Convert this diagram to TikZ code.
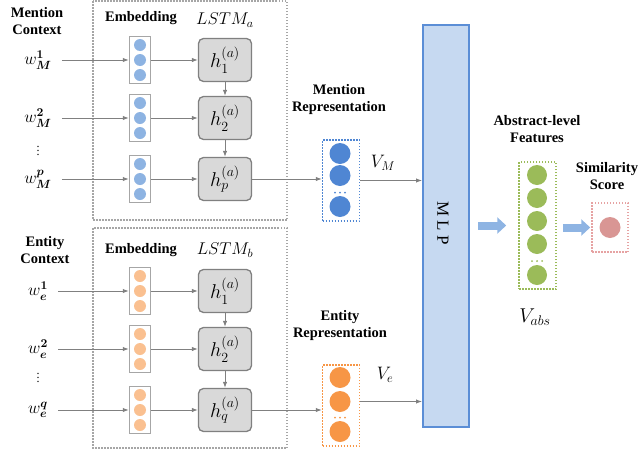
\RequirePackage{fix-cm}
\documentclass[tikz,border=0pt]{standalone}
\usepackage{amsmath}
\usepackage{bm}
\usepackage{fontspec}
\setmainfont{Liberation Serif}
\usetikzlibrary{arrows.meta, calc, positioning}

\definecolor{arrowgray}{HTML}{808080}
\definecolor{boxgray}{HTML}{A6A6A6}
\definecolor{cellgray}{HTML}{D9D9D9}
\definecolor{embblue}{HTML}{8DB3E2}
\definecolor{embor}{HTML}{FAC090}
\definecolor{repblue}{HTML}{4F86D3}
\definecolor{repor}{HTML}{F79646}
\definecolor{featgreen}{HTML}{9BBB59}
\definecolor{scorered}{HTML}{D99694}
\definecolor{scoreline}{HTML}{E6A3A3}
\definecolor{mlpfill}{HTML}{C6D9F1}
\definecolor{mlpline}{HTML}{5B8ED6}
\definecolor{fatblue}{HTML}{8EB4E3}

\tikzset{
  lbl/.style={font=\fontsize{14.5}{17}\selectfont\bfseries, align=center},
  mth/.style={font=\fontsize{17}{19}\selectfont, inner sep=0pt},
  vdot/.style={font=\fontsize{12}{13}\selectfont, inner sep=0pt},
  conn/.style={draw=arrowgray, line width=1pt, -{Latex[length=6pt,width=4.5pt]}},
  fat/.style={draw=fatblue, line width=8pt, -{Triangle[length=9pt,width=16pt]}},
  ctxbox/.style={draw=boxgray, line width=1.5pt, dash pattern=on 1.5pt off 1.5pt},
  embbox/.style={draw=boxgray, line width=1.5pt, fill=white, minimum width=21pt, minimum height=47pt, inner sep=0pt},
  cell/.style={draw=arrowgray, fill=cellgray, rounded corners=5pt, line width=1.3pt,
    minimum width=53pt, minimum height=43pt, inner sep=0pt, font=\fontsize{20}{22}\selectfont},
  vecbox/.style={line width=1.5pt, dash pattern=on 1.5pt off 1.5pt, minimum width=37pt, inner sep=0pt},
  mlpbox/.style={draw=mlpline, fill=mlpfill, line width=2pt, minimum width=46pt, minimum height=402pt, inner sep=0pt}
}

\begin{document}
\begin{tikzpicture}[x=1pt, y=-1pt]
  \useasboundingbox (0,0) rectangle (638,453);

  % LSTM frames
  \draw[ctxbox] (93,1) rectangle (287,220);
  \draw[ctxbox] (93,228) rectangle (287,448);

  \node[lbl] (mctx) at (37,21) {Mention\\Context};
  \node[lbl] (ectx) at (45,250) {Entity\\Context};
  \node[lbl] (memb) at (141,18) {Embedding};
  \node[lbl] (eemb) at (141,250) {Embedding};
  \node[font=\fontsize{17}{19}\selectfont] (mlstm) at (225,20) {$LSTM_a$};
  \node[font=\fontsize{17}{19}\selectfont] (elstm) at (225,250) {$LSTM_b$};

  % mention rows
  \foreach \i/\y/\s in {1/60/1, 2/118/2, 3/179/p} {
    \node[mth] (mw\i) at (38,\y) {$w_{\bm{M}}^{\bm{\s}}$};
    \node[embbox] (me\i) at (140,\y) {};
    \foreach \d in {-15,0,15}
      \fill[embblue] ($(me\i)+(0,\d)$) circle (6pt);
    \node[cell] (mh\i) at (225,\y) {$h_{\s}^{(a)}$};
    \draw[conn, shorten <=10pt] (mw\i) -- (me\i);
    \draw[conn] (me\i) -- (mh\i);
  }
  \node[vdot] (mdots) at (38,148) {$\vdots$};
  \draw[conn] (mh1) -- (mh2);
  \draw[conn] (mh2) -- (mh3);

  % entity rows
  \foreach \i/\y/\s in {1/291/1, 2/349/2, 3/410/q} {
    \node[mth] (ew\i) at (38,\y) {$w_{\bm{e}}^{\bm{\s}}$};
    \node[embbox] (ee\i) at (140,\y) {};
    \foreach \d in {-15,0,15}
      \fill[embor] ($(ee\i)+(0,\d)$) circle (6pt);
    \node[cell] (eh\i) at (225,\y) {$h_{\s}^{(a)}$};
    \draw[conn, shorten <=10pt] (ew\i) -- (ee\i);
    \draw[conn] (ee\i) -- (eh\i);
  }
  \node[vdot] (edots) at (38,375) {$\vdots$};
  \draw[conn] (eh1) -- (eh2);
  \draw[conn] (eh2) -- (eh3);

  % representations
  \node[lbl] (mrepl) at (339,100) {Mention\\Representation};
  \node[vecbox, draw=repblue, minimum height=81pt] (mrep) at (341,180.5) {};
  \foreach \d in {-27,-5,26}
    \fill[repblue] ($(mrep)+(-1,\d)$) circle (10.5pt);
  \foreach \dx in {-5,0,5}
    \fill[repblue] ($(mrep)+(\dx-1,12)$) circle (1pt);
  \node[font=\fontsize{18}{20}\selectfont] (vm) at (383,163) {$V_M$};

  \node[lbl] (erepl) at (340,325.5) {Entity\\Representation};
  \node[vecbox, draw=repor, minimum height=81pt] (erep) at (341,405.5) {};
  \foreach \d in {-28,-4,26}
    \fill[repor] ($(erep)+(-1,\d)$) circle (10.5pt);
  \foreach \dx in {-5,0,5}
    \fill[repor] ($(erep)+(\dx-1,12)$) circle (1pt);
  \node[font=\fontsize{18}{20}\selectfont] (ve) at (385,375) {$V_e$};

  \draw[conn] (mh3.east) -- (mh3.east -| mrep.west);
  \draw[conn] (eh3.east) -- (eh3.east -| erep.west);

  % MLP
  \node[mlpbox] (mlp) at (446,226) {};
  \node[rotate=-90, font=\fontsize{17}{19}\selectfont] (mlpl) at (443,223) {M L P};
  \draw[conn] (mrep.east) -- (mrep.east -| mlp.west);
  \draw[conn] ([yshift=4pt]erep.east) -- ([yshift=4pt]erep.east -| mlp.west);

  % abstract features
  \node[lbl] (featl) at (537,129) {Abstract-level\\Features};
  \node[vecbox, draw=featgreen, minimum height=127pt] (feat) at (537.5,225.5) {};
  \foreach \d in {-50.5,-27.5,-4.5,18.5,49.5}
    \fill[featgreen] ($(feat)+(-0.5,\d)$) circle (10pt);
  \foreach \dx in {-5,0,5}
    \fill[featgreen] ($(feat)+(\dx-0.5,35.5)$) circle (1pt);
  \node[font=\fontsize{20}{22}\selectfont] (vabs) at (535,317) {$V_{abs}$};

  % similarity
  \node[lbl] (scorel) at (607,176.5) {Similarity\\Score};
  \node[vecbox, draw=scoreline, minimum width=36pt, minimum height=49pt] (score) at (610,227.5) {};
  \fill[scorered] (score) circle (10.5pt);

  \draw[fat, shorten <=8pt, shorten >=12pt] (mlp.east |- feat.west) -- (feat.west);
  \draw[fat, shorten <=6pt, shorten >=1pt] (feat.east |- score.west) -- (score.west);
\end{tikzpicture}
\end{document}
